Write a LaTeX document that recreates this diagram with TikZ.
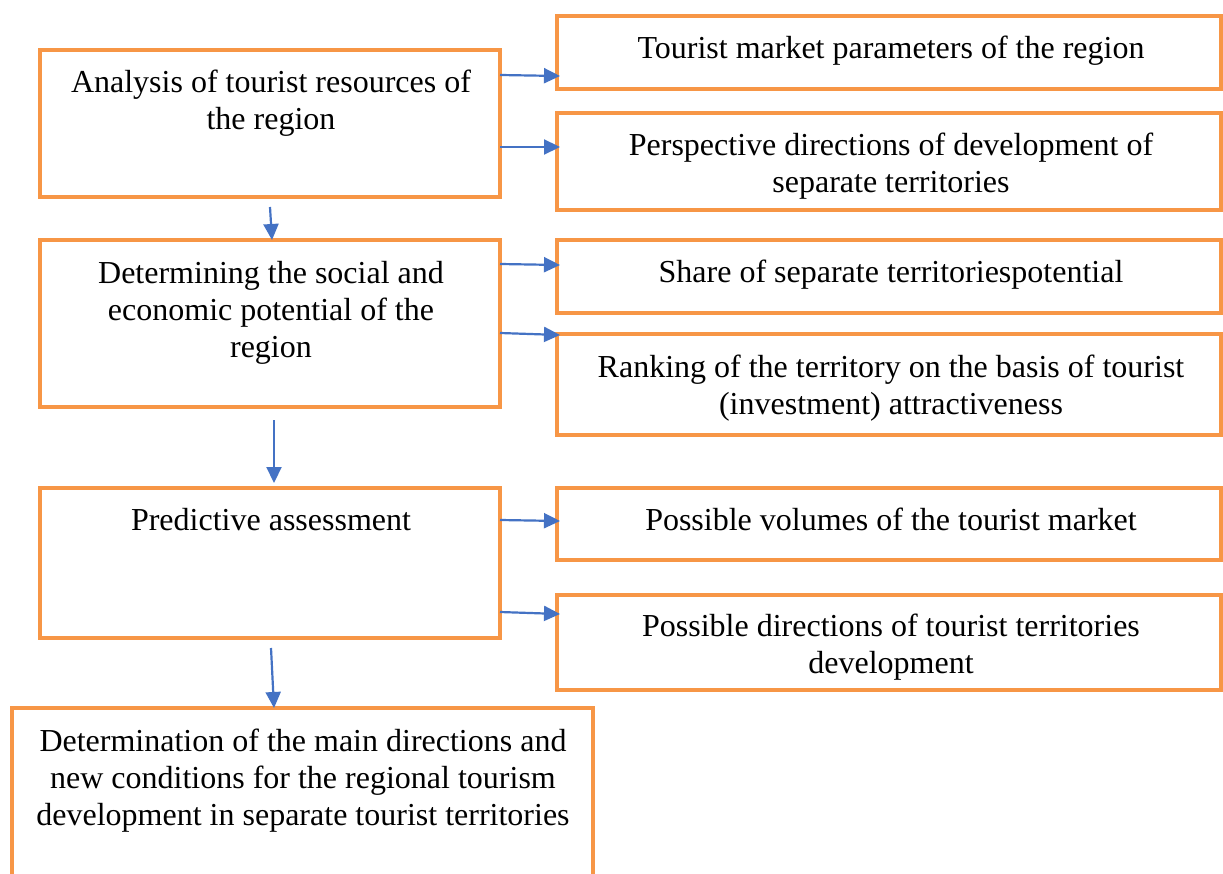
\documentclass[tikz,border=0pt]{standalone}
\usepackage{fontspec}
\setmainfont{Liberation Serif}
\usetikzlibrary{arrows.meta,calc}
\definecolor{boxorange}{RGB}{247,150,70}
\definecolor{arrowblue}{RGB}{68,114,196}
\begin{document}
\begin{tikzpicture}[x=1pt,y=-1pt,
  box/.style={draw=boxorange,line width=4.6pt,inner sep=0pt,outer sep=0pt},
  txt/.style={anchor=north,align=center,inner sep=0pt,
    font=\fontsize{32pt}{37pt}\selectfont},
  arr/.style={draw=arrowblue,line width=2.2pt,
    -{Triangle[length=16pt,width=15pt]}}]
\useasboundingbox (0,0) rectangle (1223,874);
\clip (0,0) rectangle (1223,874);
\fill[white] (0,0) rectangle (1223,874);

% left column: process steps
\node[box,minimum width=460pt,minimum height=147pt] (b1) at (270,123.5) {};
\node[box,minimum width=460pt,minimum height=167pt] (b2) at (270,323.5) {};
\node[box,minimum width=460pt,minimum height=150pt] (b3) at (270,563) {};
\node[box,minimum width=581pt,minimum height=200pt] (b4) at (302.5,808) {};

% right column: results of each step
\node[box,minimum width=664pt,minimum height=73pt] (r1) at (889,52.5) {};
\node[box,minimum width=664pt,minimum height=97pt] (r2) at (889,161.5) {};
\node[box,minimum width=664pt,minimum height=73pt] (r3) at (889,276.5) {};
\node[box,minimum width=664pt,minimum height=101pt] (r4) at (889,384.5) {};
\node[box,minimum width=664pt,minimum height=72pt] (r5) at (889,524) {};
\node[box,minimum width=664pt,minimum height=95pt] (r6) at (889,642.5) {};

% labels
\node[txt] (t1) at (271,70) {Analysis of tourist resources of\\the region};
\node[txt] (t2) at (271,261) {Determining the social and\\economic potential of the\\region};
\node[txt] (t3) at (271,508) {Predictive assessment};
\node[txt] (t4) at (303,729) {Determination of the main directions and\\new conditions for the regional tourism\\development in separate tourist territories};
\node[txt] (s1) at (891,36) {Tourist market parameters of the region};
\node[txt] (s2) at (891,133) {Perspective directions of development of\\separate territories};
\node[txt] (s3) at (891,260) {Share of separate territoriespotential};
\node[txt] (s4) at (891,355) {Ranking of the territory on the basis of tourist\\(investment) attractiveness};
\node[txt] (s5) at (891,508) {Possible volumes of the tourist market};
\node[txt] (s6) at (891,614) {Possible directions of tourist territories\\development};

% horizontal connectors
\draw[arr] (b1.east |- 0,75) -- ([xshift=3pt]r1.west |- 0,76);
\draw[arr] (b1.east |- 0,147) -- ([xshift=3pt]r2.west |- 0,147);
\draw[arr] (b2.east |- 0,264) -- ([xshift=3pt]r3.west |- 0,265);
\draw[arr] (b2.east |- 0,333) -- ([xshift=3pt]r4.west |- 0,335);
\draw[arr] (b3.east |- 0,520) -- ([xshift=3pt]r5.west |- 0,521);
\draw[arr] (b3.east |- 0,612) -- ([xshift=3pt]r6.west |- 0,614);

% vertical connectors
\draw[arr] ($(b1.south)+(0,10)$) -- ($(b2.north)+(2,0)$);
\draw[arr] ($(b2.south)+(4,13)$) -- ($(b3.north)+(4,-5)$);
\draw[arr] ($(b3.south)+(1,10)$) -- ($(b4.north)+(-28.5,0)$);
\end{tikzpicture}
\end{document}
